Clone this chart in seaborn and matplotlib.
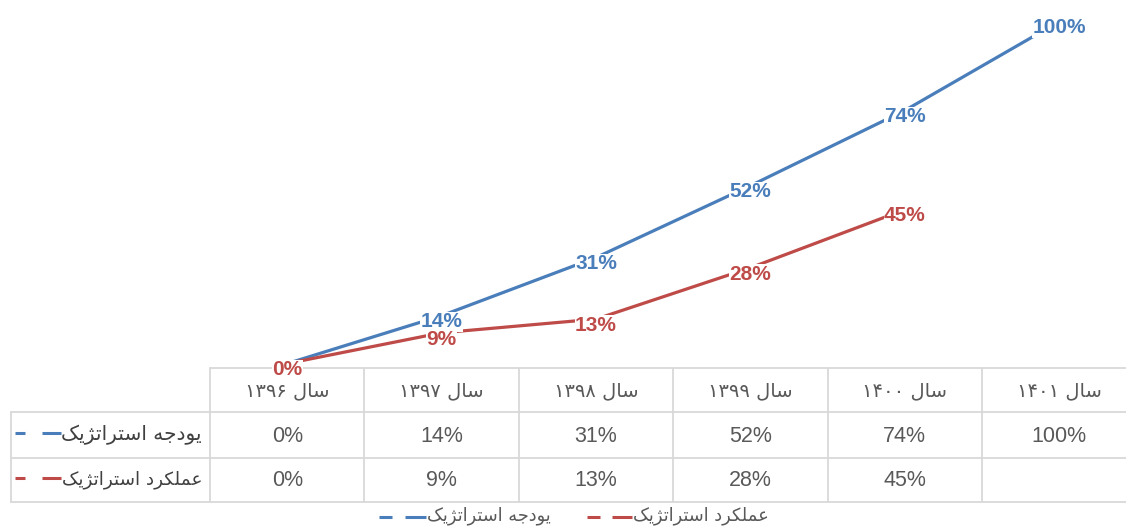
import numpy as np
import pandas as pd
import matplotlib
matplotlib.use("Agg")
import matplotlib.pyplot as plt
from matplotlib.lines import Line2D
import seaborn as sns

# ---- data ---------------------------------------------------------------
years = ["سال ۱۳۹۶", "سال ۱۳۹۷", "سال ۱۳۹۸", "سال ۱۳۹۹", "سال ۱۴۰۰", "سال ۱۴۰۱"]
series_names = ["یودجه استراتژیک", "عملکرد استراتژیک"]
budget = [0, 14, 31, 52, 74, 100]
performance = [0, 9, 13, 28, 45, np.nan]

colors = {series_names[0]: "#4A7EBB", series_names[1]: "#BE4B48"}

# ---- simple Persian shaping (presentation forms + right-to-left order) ----
FORMS = {
    "ا": ("\uFE8D", "\uFE8E", None, None),
    "ت": ("\uFE95", "\uFE96", "\uFE97", "\uFE98"),
    "ج": ("\uFE9D", "\uFE9E", "\uFE9F", "\uFEA0"),
    "د": ("\uFEA9", "\uFEAA", None, None),
    "ر": ("\uFEAD", "\uFEAE", None, None),
    "ژ": ("\uFB8A", "\uFB8B", None, None),
    "س": ("\uFEB1", "\uFEB2", "\uFEB3", "\uFEB4"),
    "ع": ("\uFEC9", "\uFECA", "\uFECB", "\uFECC"),
    "ک": ("\uFB8E", "\uFB8F", "\uFB90", "\uFB91"),
    "ل": ("\uFEDD", "\uFEDE", "\uFEDF", "\uFEE0"),
    "م": ("\uFEE1", "\uFEE2", "\uFEE3", "\uFEE4"),
    "ه": ("\uFEE9", "\uFEEA", "\uFEEB", "\uFEEC"),
    "و": ("\uFEED", "\uFEEE", None, None),
    "ی": ("\uFBFC", "\uFBFD", "\uFBFE", "\uFBFF"),
}


def dual(c):
    return c in FORMS and FORMS[c][2] is not None


def shape_word(word):
    out = []
    for i, c in enumerate(word):
        if c not in FORMS:
            out.append(c)
            continue
        prev_join = i > 0 and dual(word[i - 1])
        next_join = dual(c) and i + 1 < len(word) and word[i + 1] in FORMS
        iso, fin, ini, med = FORMS[c]
        if prev_join and next_join:
            out.append(med)
        elif prev_join:
            out.append(fin)
        elif next_join:
            out.append(ini)
        else:
            out.append(iso)
    return "".join(out)


def rtl(text):
    parts = []
    for tok in text.split(" "):
        if any(ch in FORMS for ch in tok):
            parts.append(shape_word(tok)[::-1])
        else:
            parts.append(tok)
    return " ".join(parts[::-1])


# ---- long-form table for seaborn -----------------------------------------
xpos = np.arange(len(years))
df = pd.DataFrame({
    "x": np.concatenate([xpos, xpos]),
    "value": budget + performance,
    "series": [series_names[0]] * len(years) + [series_names[1]] * len(years),
})

sns.set_style("white")
plt.rcParams["font.family"] = ["DejaVu Sans"]

W, H = 1126, 528
fig = plt.figure(figsize=(W / 100, H / 100), dpi=100)

# table / frame layer in pixel coordinates
bg = fig.add_axes([0, 0, 1, 1])
bg.set_xlim(0, W)
bg.set_ylim(H, 0)
bg.axis("off")

col_w = 154.4
x0 = 210
header_top, row1, row2, row3 = 368, 412, 458, 502
grid_c = "#D9D9D9"
edges = [x0 + i * col_w for i in range(len(years) + 1)]

bg.plot([x0, W], [header_top, header_top], color=grid_c, lw=1.3)
for yy in (row1, row2, row3):
    bg.plot([11, W], [yy, yy], color=grid_c, lw=1.3)
for e in edges:
    bg.plot([e, e], [header_top, row3], color=grid_c, lw=1.3)
bg.plot([11, 11], [row1, row3], color=grid_c, lw=1.3)

txt_c = "#595959"
for i, yl in enumerate(years):
    cx = x0 + (i + 0.5) * col_w
    bg.text(cx, (header_top + row1) / 2 + 1, rtl(yl), ha="center", va="center",
            color=txt_c, fontsize=14, family="DejaVu Sans")
    for r, vals in enumerate((budget, performance)):
        v = vals[i]
        if not np.isnan(v):
            ry = (row1 + row2) / 2 if r == 0 else (row2 + row3) / 2
            bg.text(cx, ry + 1, f"{v:.0f}%", ha="center", va="center",
                    color=txt_c, fontsize=15.5, family="Liberation Sans")

# row headers with legend keys
row_label_sizes = [14.5, 13.2]
for r, name in enumerate(series_names):
    ry = (row1 + row2) / 2 if r == 0 else (row2 + row3) / 2
    bg.text(202, ry, rtl(name), ha="right", va="center", color="#404040",
            fontsize=row_label_sizes[r], family="DejaVu Sans")
    bg.add_line(Line2D([15, 25], [ry - 2, ry - 2], color=colors[name], lw=2.2,
                       solid_capstyle="butt"))
    bg.add_line(Line2D([42, 61], [ry - 2, ry - 2], color=colors[name], lw=2.2,
                       solid_capstyle="butt"))

# bottom legend
leg_y = 517
legend_layout = [(series_names[0], 379, 405, 426), (series_names[1], 587, 612, 632)]
for name, a, b, tx in legend_layout:
    bg.add_line(Line2D([a, a + 13], [leg_y, leg_y], color=colors[name], lw=2.2,
                       solid_capstyle="butt"))
    bg.add_line(Line2D([b, tx], [leg_y, leg_y], color=colors[name], lw=2.2,
                       solid_capstyle="butt"))
    bg.text(tx + 1, leg_y - 1, rtl(name), ha="left", va="center", color=txt_c,
            fontsize=12.8, family="DejaVu Sans")

# ---- line chart ----------------------------------------------------------
ax = fig.add_axes([x0 / W, (H - header_top) / H, len(years) * col_w / W, header_top / H])
sns.lineplot(data=df.dropna(), x="x", y="value", hue="series", hue_order=series_names,
             palette=colors, linewidth=2.3, legend=False, ax=ax, sort=False)
ax.set_xlim(-0.5, len(years) - 0.5)
ax.set_ylim(-1.3, 106.3)
ax.axis("off")
ax.patch.set_alpha(0)

for name, vals in zip(series_names, (budget, performance)):
    for xi, v in zip(xpos, vals):
        if np.isnan(v):
            continue
        ax.annotate(f"{v:.0f}%", (xi, v), xytext=(0, -4.5), textcoords="offset points",
                    ha="center", va="center", color=colors[name], fontsize=15,
                    fontweight="bold", family="Liberation Sans",
                    bbox=dict(boxstyle="square,pad=0.02", fc="white", ec="none"),
                    zorder=5)

fig.savefig("out.png", dpi=100)
